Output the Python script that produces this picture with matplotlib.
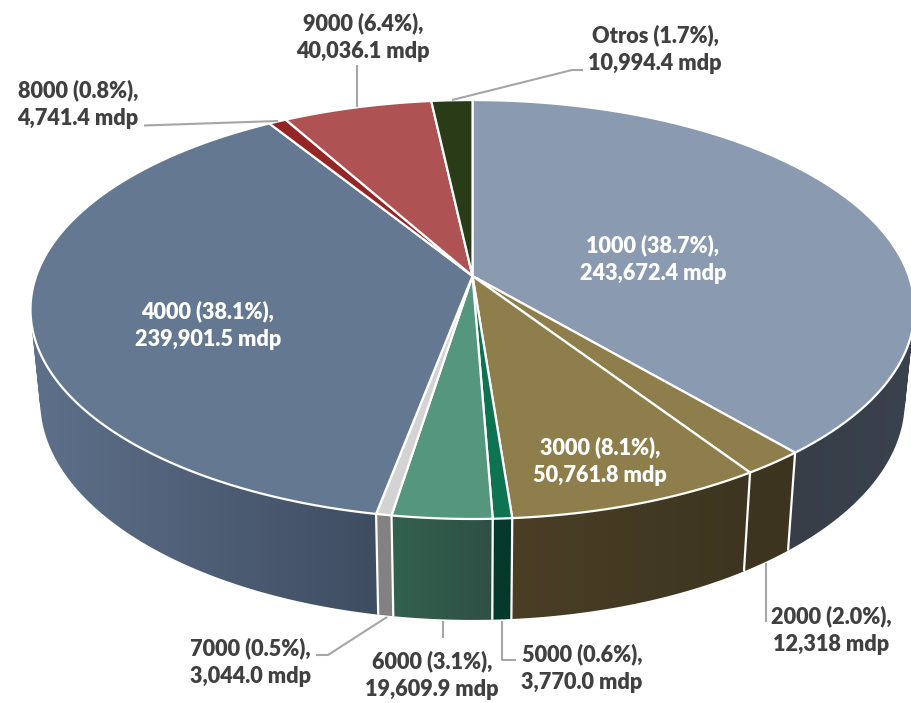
import matplotlib
matplotlib.use("Agg")
import matplotlib.pyplot as plt
import numpy as np
from matplotlib.colors import to_rgb
from matplotlib.patches import Polygon, PathPatch
from matplotlib.path import Path

plt.rcParams["font.family"] = ["Lato", "DejaVu Sans"]

# clockwise from 12 o'clock
codes = ["1000", "2000", "3000", "5000", "6000", "7000", "4000", "8000", "9000", "Otros"]
values = [243672.4, 12318.0, 50761.8, 3770.0, 19609.9, 3044.0, 239901.5, 4741.4, 40036.1, 10994.4]
pcts = ["38.7", "2.0", "8.1", "0.6", "3.1", "0.5", "38.1", "0.8", "6.4", "1.7"]
amounts = ["243,672.4", "12,318", "50,761.8", "3,770.0", "19,609.9", "3,044.0",
           "239,901.5", "4,741.4", "40,036.1", "10,994.4"]

top_colors = ["#8a9ab1", "#8e7e4b", "#8e7e4b", "#0e7350", "#54967e", "#d3d3d3",
              "#647891", "#962626", "#ae5253", "#2a3b17"]
# wall colour at the left and right end of each slice
wall_left = ["#373e48", "#3d3520", "#4a3f25", "#05392a", "#33614f", "#828282",
             "#5e708a", "#6a1a1a", "#7a3a3a", "#1c2910"]
wall_right = ["#3a424d", "#3d3520", "#3d3520", "#05392a", "#2f5045", "#828282",
              "#3f4d62", "#6a1a1a", "#7a3a3a", "#1c2910"]

# label centre (px), text colour
label_pos = [(653, 259), (831, 630), (600, 461), (582, 668), (432, 675), (250, 662),
             (208, 325), (78, 104), (363, 37), (655, 49)]
label_col = ["white", "#404040", "white", "#404040", "#404040", "#404040",
             "white", "#404040", "#404040", "#404040"]

# leader lines in px
leaders = [
    [(766, 563), (766, 622)],
    [(502, 621), (502, 660), (516, 660)],
    [(443, 621), (443, 638)],
    [(387, 617), (328, 655), (316, 655)],
    [(144, 125.5), (278, 121)],
    [(357, 65), (357, 107)],
    [(452, 100), (572, 70), (583, 70)],
]

APEX_X, APEX_Y = 472.5, 276
A, C, K = 436.3, 204.1, 0.16   # perspective of the top face


def to_px(theta, base=False):
    x, y = np.sin(theta), np.cos(theta)
    d = 1 + K * y
    X, Y = A * x / d, C * y / d
    if base:
        X, Y = 0.978 * X, 1.045 * Y - 90
    return APEX_X + X, APEX_Y - Y


def quad_path(tx, ty, bx, by):
    # union of thin quads, all wound the same way so nonzero fill keeps the overlaps
    parts = []
    for j in range(len(tx) - 1):
        q = np.array([(tx[j], ty[j]), (tx[j + 1], ty[j + 1]), (bx[j + 1], by[j + 1]), (bx[j], by[j])])
        area = 0.5 * np.sum(q[:, 0] * np.roll(q[:, 1], -1) - np.roll(q[:, 0], -1) * q[:, 1])
        if area < 0:
            q = q[::-1]
        parts.append(Path(np.vstack([q, q[:1]]), closed=True))
    return Path.make_compound_path(*parts)


fig = plt.figure(figsize=(9.11, 7.03), dpi=100)
ax = fig.add_axes([0, 0, 1, 1])
ax.axis("off")

edges = np.concatenate([[0], np.cumsum(values)]) / np.sum(values) * 2 * np.pi

# side walls: gradient image clipped to the wall outline
for i in range(len(values)):
    th = np.linspace(edges[i], edges[i + 1], max(3, int((edges[i + 1] - edges[i]) * 150)))
    tx, ty = to_px(th)
    bx, by = to_px(th, base=True)
    # gradient runs over the part of the slice in front
    front = th[np.cos(th) < 0.2]
    fx = to_px(front)[0] if len(front) > 1 else tx
    x0, x1 = fx.min(), fx.max()
    xlo = min(tx.min(), bx.min())
    xhi = max(tx.max(), bx.max())
    ylo = min(ty.min(), by.min())
    yhi = max(ty.max(), by.max())
    xs = np.linspace(xlo, xhi, 256)
    tt = np.clip((xs - x0) / max(x1 - x0, 1), 0, 1)[:, None]
    grad = ((1 - tt) * np.array(to_rgb(wall_left[i])) + tt * np.array(to_rgb(wall_right[i])))[None, :, :]
    im = ax.imshow(grad, extent=(xlo, xhi, yhi, ylo), aspect="auto", zorder=1, interpolation="bilinear")
    clip = PathPatch(quad_path(tx, ty, bx, by), transform=ax.transData)
    im.set_clip_path(clip)

ax.set_xlim(0, 911)
ax.set_ylim(703, 0)

# white seams on the wall
for e in edges[:-1]:
    tx, ty = to_px(e)
    bx, by = to_px(e, base=True)
    ax.plot([tx, bx], [ty, by], color="white", lw=1.6, zorder=2, solid_capstyle="butt")

# top face
for i in range(len(values)):
    th = np.linspace(edges[i], edges[i + 1], max(3, int((edges[i + 1] - edges[i]) * 120)))
    x, y = to_px(th)
    pts = [(APEX_X, APEX_Y)] + list(zip(x, y))
    ax.add_patch(Polygon(pts, closed=True, facecolor=top_colors[i], edgecolor="white",
                         lw=1.6, joinstyle="round", zorder=3))

for pts in leaders:
    xs, ys = zip(*pts)
    ax.plot(xs, ys, color="#a6a6a6", lw=1.5, zorder=4, solid_capstyle="butt")

for code, pct, amt, (lx, ly), col in zip(codes, pcts, amounts, label_pos, label_col):
    ax.text(lx, ly, f"{code} ({pct}%),\n{amt} mdp", ha="center", va="center", color=col,
            fontsize=15.6, fontweight=800, linespacing=1.38, zorder=5)

fig.savefig("out.png", dpi=100)
